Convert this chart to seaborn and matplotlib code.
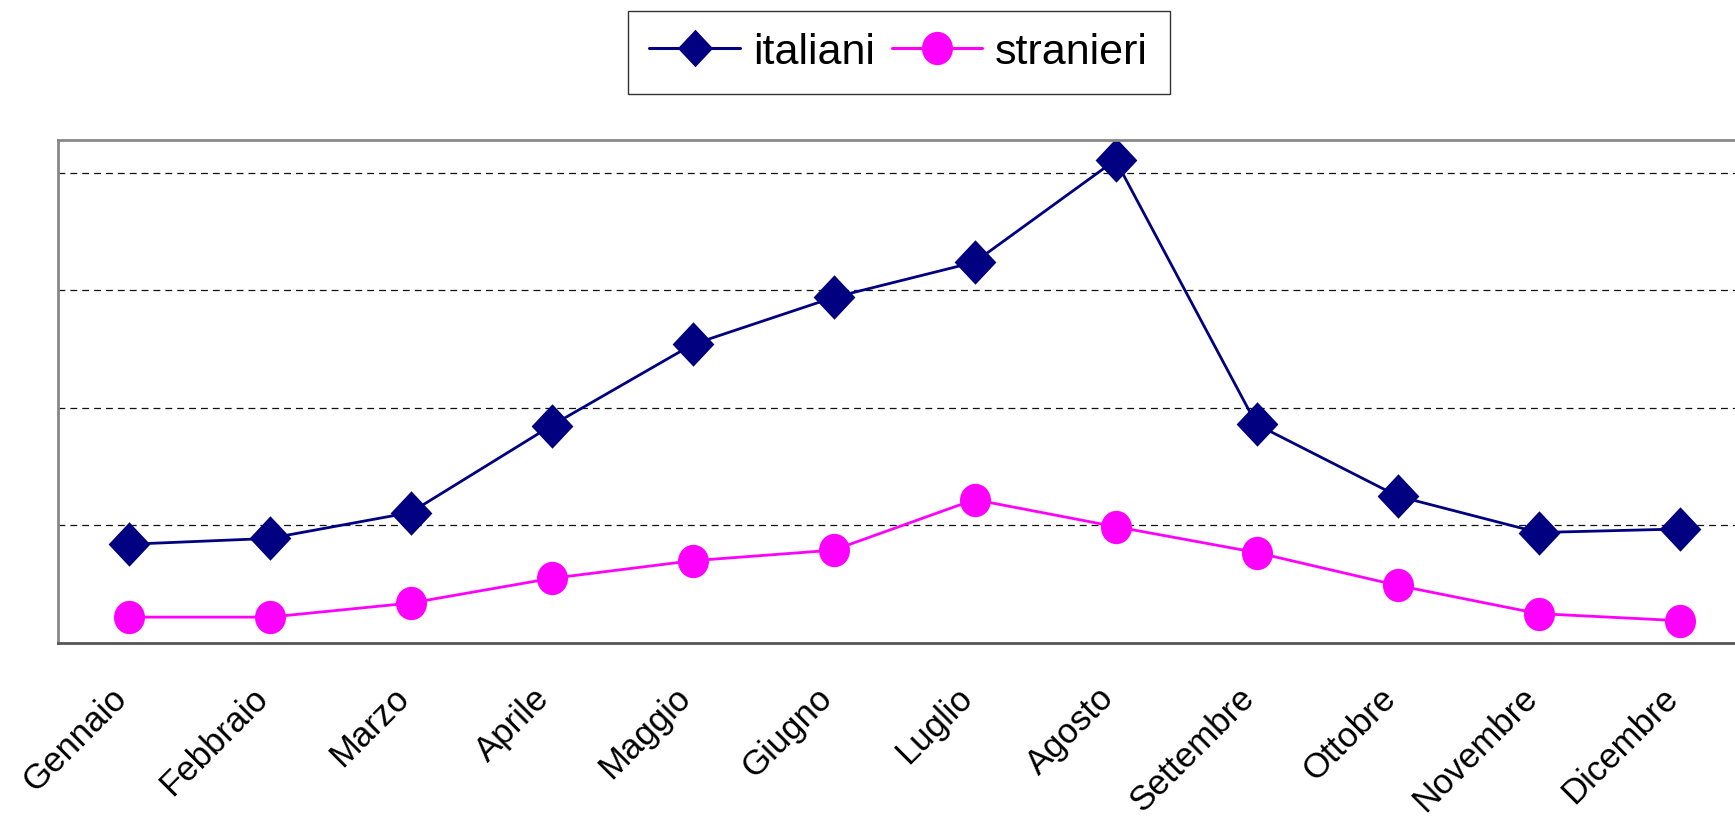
import numpy as np
import pandas as pd
import matplotlib
matplotlib.use("Agg")
import matplotlib.pyplot as plt
from matplotlib.path import Path
from matplotlib.transforms import Affine2D, ScaledTranslation
import seaborn as sns

# Dati
mesi = ['Gennaio', 'Febbraio', 'Marzo', 'Aprile', 'Maggio', 'Giugno',
        'Luglio', 'Agosto', 'Settembre', 'Ottobre', 'Novembre', 'Dicembre']
italiani = [0.84, 0.89, 1.11, 1.85, 2.54, 2.94, 3.24, 4.11, 1.86, 1.25, 0.94, 0.97]
stranieri = [0.22, 0.22, 0.34, 0.55, 0.70, 0.79, 1.22, 0.99, 0.77, 0.49, 0.25, 0.19]
griglia = [1, 2, 3, 4]

sns.set_style("white")
plt.rcParams['font.family'] = ['Liberation Sans', 'DejaVu Sans']
plt.rcParams['text.color'] = 'black'
plt.rcParams['xtick.color'] = 'black'

df = pd.DataFrame({'mese': mesi, 'italiani': italiani, 'stranieri': stranieri})

# marcatori leggermente allungati in verticale come nell'originale
rombo = Path([(0, 0.5), (0.47, 0), (0, -0.5), (-0.47, 0), (0, 0.5)],
             [Path.MOVETO, Path.LINETO, Path.LINETO, Path.LINETO, Path.CLOSEPOLY])
ellisse = Path.unit_circle().transformed(Affine2D().scale(0.93, 1.0))

fig = plt.figure(figsize=(17.35, 8.17), dpi=100)
ax = fig.add_axes([58 / 1735, 1 - 643 / 817, 1692 / 1735, 503 / 817])

sns.lineplot(data=df, x='mese', y='italiani', ax=ax, color='#000080', marker=rombo,
             markersize=32, markeredgewidth=0, linewidth=2, sort=False, label='italiani')
sns.lineplot(data=df, x='mese', y='stranieri', ax=ax, color='#FF00FF', marker=ellisse,
             markersize=24, markeredgewidth=0, linewidth=2, sort=False, label='stranieri')

ax.set_xlim(-0.5, len(mesi) - 0.5)
ax.set_ylim(0, 4.28)
ax.set_xlabel('')
ax.set_ylabel('')

# griglia tratteggiata
ax.set_yticks(griglia)
ax.set_yticklabels([])
ax.tick_params(axis='y', length=0)
ax.yaxis.grid(True, color='#111111', linewidth=0.9, linestyle=(0, (5.5, 4)))
ax.xaxis.grid(False)

# etichette mesi e tacche fra le categorie
ax.set_xticks(range(len(mesi)))
ax.set_xticklabels(mesi, rotation=45, ha='right', va='center', rotation_mode='anchor', fontsize=25)
ax.tick_params(axis='x', which='major', length=0, pad=36)
ax.set_xticks(np.arange(-0.5, len(mesi)), minor=True)
ax.tick_params(axis='x', which='minor', length=8, width=1.2, color='#555555', direction='out')
spost = ScaledTranslation(-7 / 100, 0, fig.dpi_scale_trans)
for lab in ax.get_xticklabels():
    lab.set_transform(lab.get_transform() + spost)

for s in ['left', 'top', 'right']:
    ax.spines[s].set_color('#888888')
    ax.spines[s].set_linewidth(2)
ax.spines['bottom'].set_color('#555555')
ax.spines['bottom'].set_linewidth(2)

ax.get_legend().remove()
handles, labels = ax.get_legend_handles_labels()
leg = fig.legend(handles, labels, loc='upper center', bbox_to_anchor=(0.518, 1 - 11 / 817),
                 borderaxespad=0, ncol=2, fontsize=31, frameon=True, fancybox=False,
                 edgecolor='black', handlelength=2.1, handletextpad=0.3, columnspacing=0.4,
                 borderpad=0.5)
leg.get_frame().set_linewidth(1.0)
for h, ms in zip(leg.legend_handles, [27, 24]):
    h.set_markersize(ms)
    h.set_linewidth(2.2)

fig.savefig('out.png', dpi=100)
